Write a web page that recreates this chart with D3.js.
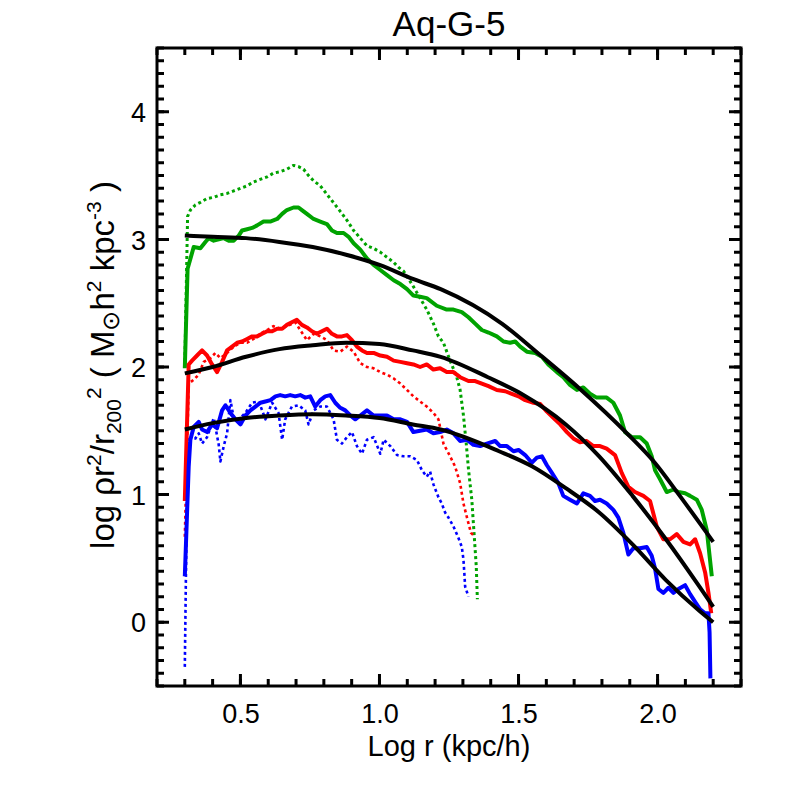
<!DOCTYPE html>
<html>
<head>
<meta charset="utf-8">
<script src="https://cdn.jsdelivr.net/npm/d3@7"></script>
<style>
  body { margin: 0; background: #fff; }
</style>
</head>
<body>
<div id="chart"></div>
<script>

// tick values and labels
let xMajor = [0.5, 1.0, 1.5, 2.0];
let yMajor = [0, 1, 2, 3, 4];

// green, red and blue profiles (solid = full run, dotted = second run)
let greenSolid = [
  [0.30,1.99],[0.31,2.77],[0.332,2.94],[0.356,2.93],[0.374,2.98],[0.386,3.01],[0.404,2.99],[0.422,3.00],
  [0.440,3.01],[0.458,2.99],[0.476,2.99],[0.494,3.03],[0.506,3.07],[0.524,3.08],[0.542,3.09],[0.560,3.11],
  [0.583,3.14],[0.607,3.14],[0.632,3.16],[0.650,3.20],[0.667,3.23],[0.691,3.25],[0.709,3.25],[0.721,3.23],
  [0.739,3.20],[0.763,3.16],[0.787,3.14],[0.811,3.12],[0.829,3.07],[0.847,3.05],[0.871,3.05],[0.889,3.02],
  [0.907,2.97],[0.931,2.92],[0.955,2.85],[0.979,2.80],[1.003,2.76],[1.027,2.72],[1.051,2.68],[1.075,2.65],
  [1.099,2.61],[1.122,2.56],[1.146,2.55],[1.170,2.54],[1.206,2.48],[1.242,2.45],[1.266,2.45],[1.296,2.43],
  [1.320,2.39],[1.344,2.34],[1.368,2.29],[1.392,2.27],[1.422,2.24],[1.446,2.20],[1.470,2.19],[1.488,2.20],
  [1.506,2.16],[1.530,2.12],[1.560,2.11],[1.584,2.08],[1.607,2.02],[1.638,1.96],[1.661,1.92],[1.685,1.86],
  [1.710,1.82],[1.733,1.84],[1.757,1.79],[1.781,1.76],[1.817,1.76],[1.841,1.72],[1.865,1.62],[1.883,1.49],
  [1.907,1.45],[1.937,1.45],[1.961,1.40],[1.979,1.30],[1.991,1.19],[2.009,1.12],[2.033,1.02],[2.057,1.04],
  [2.075,1.02],[2.099,1.01],[2.117,0.99],[2.141,0.96],[2.159,0.88],[2.177,0.72],[2.186,0.54],[2.195,0.36]
];

let greenDotted = [
  [0.30,2.00],[0.31,3.18],[0.320,3.23],[0.338,3.27],[0.356,3.29],[0.380,3.32],[0.404,3.33],[0.428,3.35],
  [0.452,3.36],[0.476,3.38],[0.500,3.40],[0.524,3.42],[0.547,3.45],[0.571,3.47],[0.596,3.49],[0.619,3.52],
  [0.643,3.53],[0.667,3.55],[0.691,3.58],[0.709,3.57],[0.727,3.55],[0.745,3.50],[0.763,3.46],[0.787,3.42],
  [0.805,3.37],[0.823,3.32],[0.841,3.27],[0.859,3.22],[0.883,3.15],[0.907,3.07],[0.931,3.01],[0.955,2.95],
  [0.979,2.93],[1.003,2.90],[1.027,2.86],[1.051,2.82],[1.069,2.78],[1.087,2.75],[1.105,2.69],[1.122,2.63],
  [1.146,2.54],[1.170,2.45],[1.194,2.34],[1.212,2.24],[1.230,2.19],[1.254,2.05],[1.278,1.92],[1.290,1.82],
  [1.302,1.62],[1.312,1.40],[1.320,1.20],[1.332,0.96],[1.340,0.70],[1.348,0.44],[1.352,0.18]
];

let redSolid = [
  [0.30,0.95],[0.314,2.02],[0.326,2.05],[0.344,2.09],[0.362,2.13],[0.380,2.09],[0.398,2.02],[0.416,1.96],
  [0.434,2.04],[0.452,2.13],[0.470,2.16],[0.488,2.19],[0.506,2.20],[0.524,2.22],[0.542,2.24],[0.560,2.24],
  [0.578,2.26],[0.596,2.28],[0.614,2.28],[0.632,2.30],[0.650,2.30],[0.667,2.33],[0.685,2.35],[0.703,2.37],
  [0.721,2.33],[0.739,2.31],[0.757,2.28],[0.775,2.26],[0.793,2.28],[0.811,2.30],[0.829,2.26],[0.847,2.24],
  [0.865,2.24],[0.883,2.25],[0.901,2.21],[0.919,2.16],[0.937,2.13],[0.955,2.11],[0.979,2.11],[1.003,2.09],
  [1.027,2.08],[1.051,2.05],[1.075,2.04],[1.099,2.03],[1.122,2.02],[1.146,2.00],[1.170,2.02],[1.194,1.98],
  [1.218,1.99],[1.242,1.96],[1.266,1.96],[1.290,1.92],[1.320,1.89],[1.344,1.89],[1.368,1.87],[1.392,1.85],
  [1.422,1.82],[1.452,1.81],[1.476,1.79],[1.500,1.77],[1.524,1.74],[1.554,1.72],[1.578,1.71],[1.602,1.65],
  [1.626,1.60],[1.650,1.55],[1.674,1.49],[1.697,1.44],[1.721,1.41],[1.745,1.42],[1.769,1.38],[1.793,1.38],
  [1.817,1.36],[1.847,1.31],[1.871,1.17],[1.895,1.06],[1.919,1.02],[1.949,0.99],[1.973,0.95],[1.997,0.75],
  [2.021,0.65],[2.045,0.65],[2.069,0.69],[2.093,0.63],[2.117,0.61],[2.135,0.65],[2.153,0.54],[2.171,0.39],
  [2.183,0.23],[2.193,0.07]
];

let redDotted = [
  [0.30,0.67],[0.314,1.87],[0.332,1.90],[0.350,1.94],[0.368,2.04],[0.392,2.07],[0.410,2.11],[0.428,2.07],
  [0.452,2.11],[0.476,2.16],[0.500,2.19],[0.524,2.19],[0.547,2.22],[0.571,2.26],[0.596,2.29],[0.619,2.32],
  [0.643,2.30],[0.667,2.32],[0.697,2.35],[0.715,2.29],[0.739,2.21],[0.763,2.26],[0.787,2.24],[0.811,2.21],
  [0.835,2.13],[0.859,2.12],[0.883,2.16],[0.907,2.12],[0.931,2.03],[0.955,2.00],[0.979,1.99],[1.003,1.96],
  [1.027,1.94],[1.051,1.91],[1.075,1.87],[1.099,1.82],[1.122,1.77],[1.146,1.73],[1.170,1.69],[1.194,1.64],
  [1.212,1.59],[1.230,1.40],[1.254,1.30],[1.272,1.22],[1.290,1.09],[1.302,0.93],[1.317,0.80],[1.329,0.70],
  [1.344,0.67]
];

let blueSolid = [
  [0.30,0.36],[0.314,1.22],[0.320,1.43],[0.332,1.53],[0.350,1.57],[0.362,1.51],[0.380,1.49],[0.398,1.55],
  [0.416,1.52],[0.434,1.66],[0.446,1.70],[0.464,1.64],[0.482,1.59],[0.500,1.55],[0.518,1.62],[0.536,1.66],
  [0.554,1.69],[0.572,1.72],[0.590,1.73],[0.608,1.74],[0.626,1.77],[0.643,1.78],[0.661,1.77],[0.679,1.78],
  [0.697,1.77],[0.715,1.78],[0.733,1.76],[0.751,1.77],[0.769,1.69],[0.787,1.74],[0.805,1.77],[0.823,1.78],
  [0.841,1.72],[0.859,1.68],[0.877,1.66],[0.895,1.62],[0.913,1.59],[0.931,1.62],[0.955,1.66],[0.979,1.62],
  [1.003,1.62],[1.027,1.62],[1.051,1.59],[1.075,1.59],[1.099,1.57],[1.122,1.49],[1.146,1.50],[1.170,1.51],
  [1.194,1.48],[1.218,1.49],[1.242,1.51],[1.266,1.48],[1.290,1.42],[1.314,1.43],[1.338,1.39],[1.362,1.38],
  [1.386,1.40],[1.416,1.42],[1.434,1.38],[1.458,1.38],[1.482,1.34],[1.500,1.35],[1.524,1.31],[1.548,1.25],
  [1.566,1.29],[1.584,1.30],[1.602,1.23],[1.620,1.17],[1.643,1.09],[1.661,0.99],[1.685,0.96],[1.710,0.93],
  [1.733,1.01],[1.757,0.99],[1.775,0.95],[1.793,0.96],[1.817,0.93],[1.841,0.88],[1.859,0.82],[1.877,0.70],
  [1.895,0.53],[1.913,0.58],[1.937,0.58],[1.961,0.59],[1.979,0.52],[1.991,0.42],[2.003,0.26],[2.021,0.23],
  [2.039,0.27],[2.057,0.23],[2.075,0.26],[2.099,0.29],[2.117,0.22],[2.135,0.16],[2.153,0.10],[2.171,0.07],
  [2.183,0.07],[2.187,-0.08],[2.190,-0.44]
];

let blueDotted = [
  [0.30,-0.35],[0.31,1.43],[0.338,1.44],[0.350,1.48],[0.362,1.40],[0.380,1.45],[0.404,1.60],[0.422,1.39],
  [0.428,1.26],[0.440,1.38],[0.452,1.48],[0.464,1.74],[0.476,1.60],[0.494,1.59],[0.518,1.64],[0.542,1.72],
  [0.566,1.73],[0.590,1.59],[0.614,1.72],[0.637,1.64],[0.650,1.43],[0.661,1.59],[0.685,1.69],[0.709,1.70],
  [0.733,1.66],[0.745,1.55],[0.763,1.66],[0.787,1.69],[0.811,1.69],[0.835,1.59],[0.847,1.43],[0.865,1.40],
  [0.883,1.45],[0.901,1.49],[0.919,1.38],[0.937,1.32],[0.955,1.43],[0.979,1.45],[1.003,1.32],[1.015,1.43],
  [1.039,1.38],[1.063,1.31],[1.087,1.30],[1.111,1.30],[1.135,1.27],[1.153,1.19],[1.170,1.14],[1.182,1.18],
  [1.194,1.08],[1.212,0.98],[1.224,0.93],[1.236,0.86],[1.248,0.82],[1.266,0.75],[1.284,0.66],[1.296,0.59],
  [1.302,0.49],[1.305,0.39],[1.308,0.28],[1.320,0.20]
];

// black fitted profiles
let fitGreen = [
  [0.30,3.03],[0.40,3.02],[0.52,3.01],[0.64,2.98],[0.76,2.94],[0.88,2.88],[1.00,2.80],[1.12,2.69],
  [1.22,2.61],[1.44,2.34],[1.58,2.09],[1.72,1.83],[1.89,1.48],[1.99,1.25],[2.08,0.99],[2.20,0.63]
];
let fitRed = [
  [0.30,1.95],[0.40,2.00],[0.52,2.08],[0.64,2.14],[0.76,2.17],[0.88,2.19],[1.00,2.18],[1.12,2.13],
  [1.22,2.08],[1.39,1.92],[1.51,1.79],[1.67,1.55],[1.79,1.30],[1.91,0.99],[2.03,0.65],[2.15,0.28],[2.20,0.12]
];
let fitBlue = [
  [0.30,1.51],[0.40,1.56],[0.52,1.60],[0.64,1.62],[0.76,1.63],[0.88,1.62],[1.00,1.60],[1.12,1.55],
  [1.22,1.51],[1.43,1.34],[1.55,1.22],[1.67,1.05],[1.79,0.86],[1.91,0.61],[2.03,0.33],[2.15,0.09],[2.20,0.00]
];

let green = "#00a300";
let red = "#ff0000";
let blue = "#0000ff";
let font = "'Liberation Sans', Arial, Helvetica, sans-serif";

let W = 786, H = 786;
let plotLeft = 157, plotRight = 741, plotTop = 48, plotBottom = 686;

let x = d3.scaleLinear().domain([0.2, 2.3]).range([plotLeft, plotRight]);
let y = d3.scaleLinear().domain([-0.5, 4.5]).range([plotBottom, plotTop]);

let svg = d3.select("#chart")
  .append("svg")
    .attr("width", W)
    .attr("height", H)
    .style("font-family", font);

// clip for the data
svg.append("clipPath")
  .attr("id", "plot-clip")
  .append("rect")
  .attr("x", plotLeft).attr("y", plotTop)
  .attr("width", plotRight - plotLeft).attr("height", plotBottom - plotTop);

let line = d3.line()
  .x(d => x(d[0]))
  .y(d => y(d[1]));

let smooth = d3.line()
  .curve(d3.curveMonotoneX)
  .x(d => x(d[0]))
  .y(d => y(d[1]));

let plot = svg.append("g").attr("clip-path", "url(#plot-clip)");

// dotted runs first, solid runs over them, fits on top
let series = [
  { data: greenDotted, color: green, width: 3, dash: "3,3" },
  { data: redDotted, color: red, width: 2.6, dash: "3,3" },
  { data: blueDotted, color: blue, width: 2.6, dash: "3,3" },
  { data: greenSolid, color: green, width: 4, dash: null },
  { data: redSolid, color: red, width: 4, dash: null },
  { data: blueSolid, color: blue, width: 4, dash: null }
];

series.forEach(s => {
  plot.append("path")
    .datum(s.data)
    .attr("fill", "none")
    .attr("stroke", s.color)
    .attr("stroke-width", s.width)
    .attr("stroke-dasharray", s.dash)
    .attr("stroke-linejoin", "round")
    .attr("d", line);
});

[fitGreen, fitRed, fitBlue].forEach(f => {
  plot.append("path")
    .datum(f)
    .attr("fill", "none")
    .attr("stroke", "#000")
    .attr("stroke-width", 4)
    .attr("d", smooth);
});

// frame
svg.append("rect")
  .attr("x", plotLeft).attr("y", plotTop)
  .attr("width", plotRight - plotLeft).attr("height", plotBottom - plotTop)
  .attr("fill", "none")
  .attr("stroke", "#000")
  .attr("stroke-width", 3);

// tick marks, pointing inwards on all four sides (one path per side and size)

let xMinor = x.ticks(21);
let yMinor = y.ticks(50);

function tickPath(values, scale, len, vertical, base, dir) {
  let p = d3.path();
  values.forEach(v => {
    let pos = scale(v);
    if (vertical) {
      p.moveTo(pos, base);
      p.lineTo(pos, base + dir * len);
    } else {
      p.moveTo(base, pos);
      p.lineTo(base + dir * len, pos);
    }
  });
  return p.toString();
}

let tickDefs = [
  [xMinor, x, 7, true, plotBottom, -1],
  [xMajor, x, 12, true, plotBottom, -1],
  [xMinor, x, 7, true, plotTop, 1],
  [xMajor, x, 12, true, plotTop, 1],
  [yMinor, y, 7, false, plotLeft, 1],
  [yMajor, y, 12, false, plotLeft, 1],
  [yMinor, y, 7, false, plotRight, -1],
  [yMajor, y, 12, false, plotRight, -1]
];

svg.append("g")
  .selectAll("path")
  .data(tickDefs)
  .join("path")
    .attr("fill", "none")
    .attr("stroke", "#000")
    .attr("stroke-width", 3)
    .attr("d", d => tickPath(...d));

// tick labels from the axis generators
svg.append("g")
  .attr("transform", `translate(0,${plotBottom})`)
  .call(d3.axisBottom(x).tickValues(xMajor).tickSize(0).tickFormat(d3.format(".1f")))
  .call(g => g.select(".domain").remove())
  .call(g => g.selectAll(".tick text")
    .attr("y", 37)
    .attr("dy", 0)
    .attr("fill", "#000")
    .style("font-family", font)
    .style("font-size", "27px"));

svg.append("g")
  .attr("transform", `translate(${plotLeft},0)`)
  .call(d3.axisLeft(y).tickValues(yMajor).tickSize(0).tickFormat(d3.format("d")))
  .call(g => g.select(".domain").remove())
  .call(g => g.selectAll(".tick text")
    .attr("x", -11)
    .attr("dy", "0.36em")
    .attr("fill", "#000")
    .style("font-family", font)
    .style("font-size", "27px"));

// title
svg.append("text")
  .attr("x", (plotLeft + plotRight) / 2)
  .attr("y", 36)
  .attr("text-anchor", "middle")
  .style("font-size", "35px")
  .text("Aq-G-5");

// x axis title
svg.append("text")
  .attr("x", (plotLeft + plotRight) / 2)
  .attr("y", 756)
  .attr("text-anchor", "middle")
  .style("font-size", "29px")
  .text("Log r (kpc/h)");

// y axis title with super/subscripts
let yTitle = svg.append("text")
  .attr("transform", "translate(114,365) rotate(-90)")
  .attr("text-anchor", "middle")
  .style("font-size", "33px");

let parts = [
  ["log \u03c1r", 0, 33],
  ["2", -13, 21],
  ["/r", 0, 33],
  ["200", 7, 21],
  ["2", -13, 21],
  [" ( M", 0, 33],
  ["\u2299", 5, 24],
  ["h", 0, 33],
  ["2", -13, 21],
  [" kpc", 0, 33],
  ["-3", -13, 21],
  [" )", 0, 33]
];

let shift = 0;
parts.forEach(p => {
  yTitle.append("tspan")
    .attr("dy", p[1] - shift)
    .style("font-size", p[2] + "px")
    .text(p[0]);
  shift = p[1];
});

</script>
</body>
</html>
